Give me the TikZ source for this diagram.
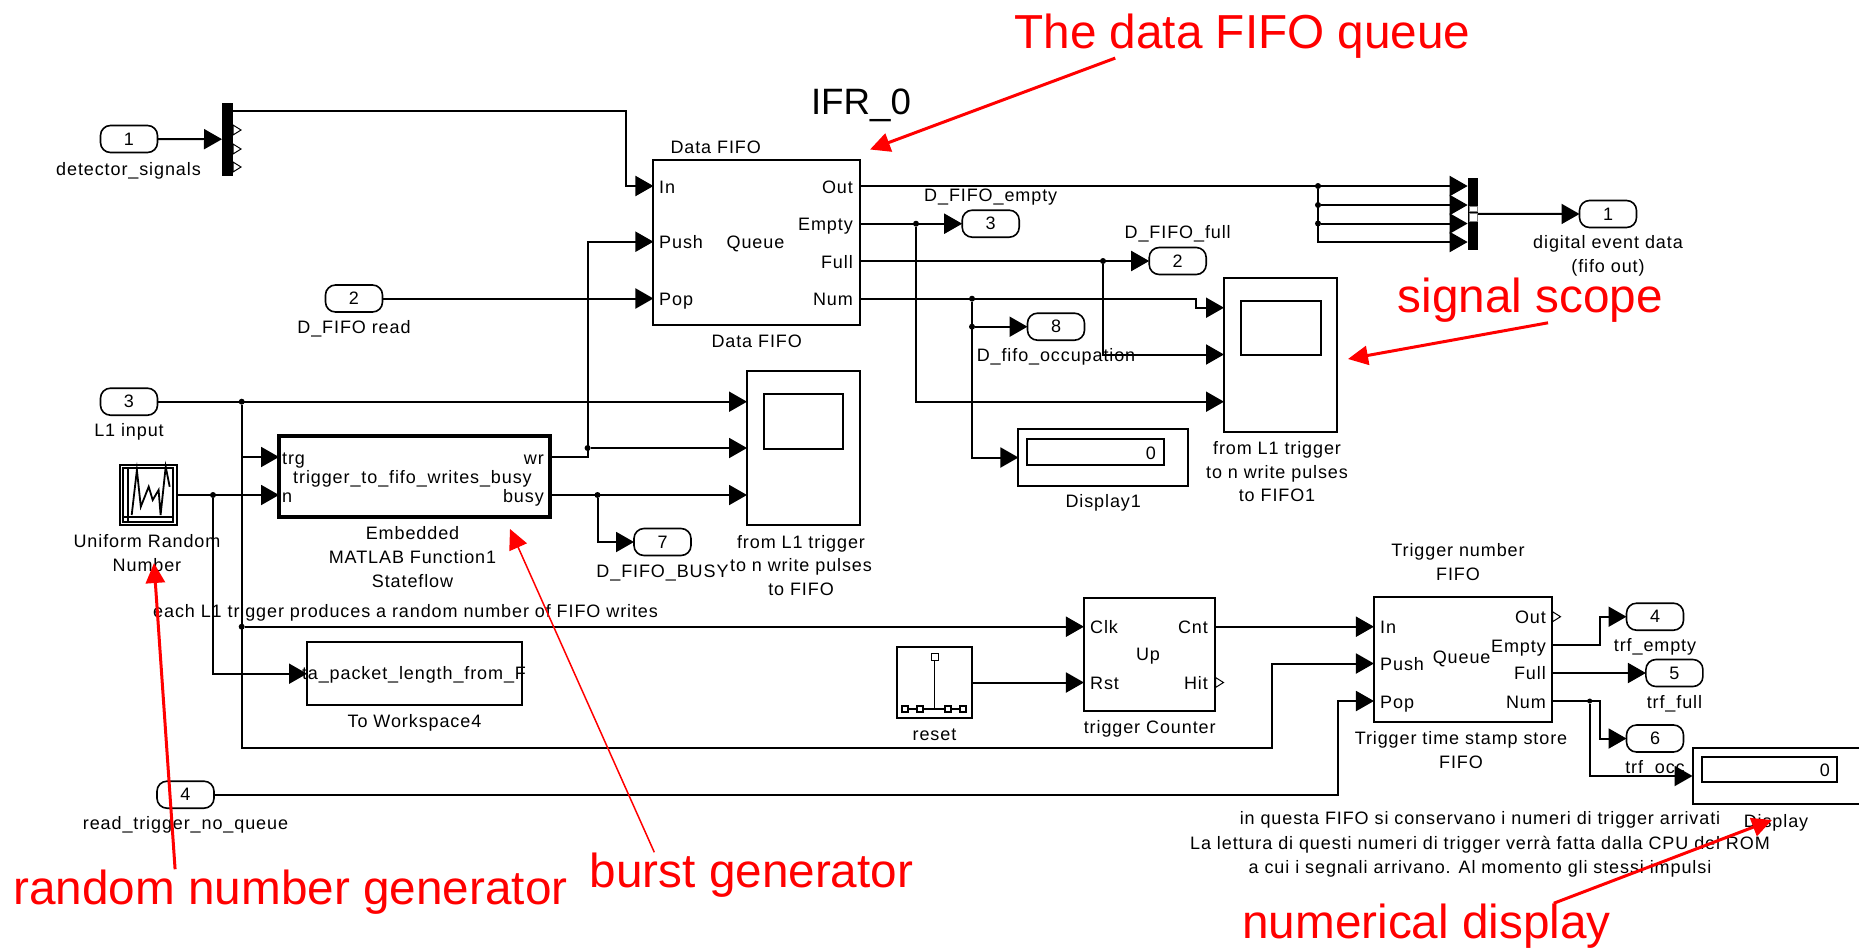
\documentclass[tikz,border=0pt]{standalone}
\usepackage{fontspec}
\setmainfont{Liberation Sans}
\newfontfamily\simfont[LetterSpace=5]{Liberation Sans}
\usetikzlibrary{arrows.meta,positioning,calc,shapes.geometric}

\begin{document}
\begin{tikzpicture}[
  x=1pt, y=-1pt,
  block/.style={draw, line width=2pt, inner sep=0pt, outer sep=0pt},
  screen/.style={draw, line width=2pt, inner sep=0pt, outer sep=0pt},
  inport/.style={draw, line width=1.6pt, rounded corners=10pt, minimum width=57pt, minimum height=27pt, inner sep=0pt, outer sep=0pt, font=\simfont\fontsize{18}{22}\selectfont},
  muxbar/.style={fill=black, inner sep=0pt, outer sep=0pt},
  lbl/.style={inner sep=0pt, text height=15.5pt, text depth=1.5pt, font=\simfont\fontsize{18}{22}\selectfont},
  lbls/.style={inner sep=0pt, align=center, font=\simfont\fontsize{18}{23.7}\selectfont},
  outlet/.style={draw, isosceles triangle, isosceles triangle stretches, minimum width=10pt, minimum height=8pt, inner sep=0pt, outer sep=0pt, line width=1pt, anchor=west},
  tiny/.style={draw, line width=1.4pt, fill=white, inner sep=0pt, minimum size=7pt},
  dot/.style={circle, fill=black, inner sep=0pt, minimum size=6pt},
  sig/.style={-{Triangle[length=18pt,width=20pt]}, line width=2pt},
  note/.style={inner sep=0pt, red, anchor=base, font=\fontsize{47.7}{54}\selectfont},
  pointer/.style={-{Triangle[length=20pt,width=19pt]}, red, line width=3pt}
]
\useasboundingbox (0,0) rectangle (1859,948);

% Blocks
\node[block, minimum width=206.5pt, minimum height=164.7pt] (fifo) at (756.7,242.3) {};
\node[block, line width=4pt, minimum width=271pt, minimum height=80.7pt] (sf) at (414.5,476.3) {};
\node[block, minimum width=57pt, minimum height=60pt] (rng) at (148,495) {};
\node[block, line width=1.2pt, minimum width=50pt, minimum height=54pt] (rngin) at (148,495) {};
\node[block, minimum width=215pt, minimum height=63.5pt] (wsbox) at (414.5,673.7) {};
\node[block, minimum width=113pt, minimum height=154pt] (scopeA) at (803.5,448) {};
\node[screen, minimum width=79pt, minimum height=55pt] (screenA) at (803.5,421.5) {};
\node[block, minimum width=113pt, minimum height=154pt] (scopeB) at (1280.5,354.7) {};
\node[screen, minimum width=80pt, minimum height=54pt] (screenB) at (1281,327.7) {};
\node[block, minimum width=169.5pt, minimum height=57pt] (dispA) at (1103.2,457.5) {};
\node[screen, minimum width=137pt, minimum height=26pt] (readA) at (1095.5,452) {};
\node[block, minimum width=169.5pt, minimum height=56pt] (dispB) at (1777.3,776) {};
\node[screen, minimum width=135pt, minimum height=24.7pt] (readB) at (1769.5,769.3) {};
\node[block, minimum width=131.5pt, minimum height=113pt] (counter) at (1149.7,654.5) {};
\node[block, minimum width=178.5pt, minimum height=125pt] (tfifo) at (1463.2,659.2) {};
\node[block, minimum width=75pt, minimum height=71pt] (reset) at (934.5,682.5) {};

% Mux bars
\node[muxbar, minimum width=11pt, minimum height=73pt] (muxA) at (227.5,139.2) {};
\node[muxbar, minimum width=10.3pt, minimum height=72.3pt] (muxB) at (1472.8,213.9) {};
\node[draw=gray, fill=white, inner sep=0pt, minimum width=8pt, minimum height=5.5pt] (barA) at (1473,208.8) {};
\node[draw=gray, fill=white, inner sep=0pt, minimum width=8pt, minimum height=7.5pt] (barB) at (1473,217) {};

% Ports
\node[inport] (inA) at (129,139) {1};
\node[inport] (inB) at (354,298.5) {2};
\node[inport] (inC) at (129,401.7) {3};
\node[inport] (inD) at (185.5,794.7) {4};
\node[inport] (outA) at (1608,214) {1};
\node[inport] (outB) at (1177.7,261) {2};
\node[inport] (outC) at (990.7,223.7) {3};
\node[inport] (outD) at (1655,616.7) {4};
\node[inport] (outE) at (1674.4,673) {5};
\node[inport] (outF) at (1655,738.5) {6};
\node[inport] (outG) at (662.5,542) {7};
\node[inport] (outH) at (1056,326.7) {8};

% Open outlets
\node[outlet] (opA) at (233,130) {};
\node[outlet] (opB) at (233,149) {};
\node[outlet] (opC) at (233,167) {};
\node[outlet] (opD) at (1215.5,682.5) {};
\node[outlet] (opE) at (1552.5,616.7) {};

% Data FIFO text
\node[lbl, above=4.5pt of fifo, xshift=-41pt] (fifoTop) {Data FIFO};
\node[lbl, below=7pt of fifo] (fifoCap) {Data FIFO};
\node[lbl, anchor=west] (fIn) at (659,186) {In};
\node[lbl, anchor=west] (fPush) at (659,241.7) {Push};
\node[lbl, anchor=west] (fPop) at (659,298) {Pop};
\node[lbl] (fQueue) at (755.5,241.7) {Queue};
\node[lbl, anchor=east] (fOut) at (853,186) {Out};
\node[lbl, anchor=east] (fEmpty) at (853,223.7) {Empty};
\node[lbl, anchor=east] (fFull) at (853,261) {Full};
\node[lbl, anchor=east] (fNum) at (853,298.7) {Num};

% Stateflow text
\node[lbl, anchor=west] (sTrg) at (282,457) {trg};
\node[lbl, anchor=west] (sN) at (282,495) {n};
\node[lbl, anchor=east] (sWr) at (544,457) {wr};
\node[lbl, anchor=east] (sBusy) at (544,495) {busy};
\node[lbl] (sName) at (412.5,476) {trigger\_to\_fifo\_writes\_busy};
\node[lbls] (sCap) at (412.5,557) {Embedded\\MATLAB Function1\\Stateflow};

% Counter text
\node[lbl, anchor=west] (cClk) at (1090,626.7) {Clk};
\node[lbl, anchor=west] (cRst) at (1090,682.5) {Rst};
\node[lbl] (cUp) at (1148,653) {Up};
\node[lbl, anchor=east] (cCnt) at (1208,626.7) {Cnt};
\node[lbl, anchor=east] (cHit) at (1208,682.5) {Hit};
\node[lbl, below=7pt of counter] (cCap) {trigger Counter};

% Trigger FIFO text
\node[lbls] (tTop) at (1458,562) {Trigger number\\FIFO};
\node[lbl, anchor=west] (tIn) at (1380,626.7) {In};
\node[lbl, anchor=west] (tPush) at (1380,663.5) {Push};
\node[lbl, anchor=west] (tPop) at (1380,701) {Pop};
\node[lbl] (tQueue) at (1461.6,656.7) {Queue};
\node[lbl, anchor=east] (tOut) at (1546,616) {Out};
\node[lbl, anchor=east] (tEmpty) at (1546,645) {Empty};
\node[lbl, anchor=east] (tFull) at (1546,672) {Full};
\node[lbl, anchor=east] (tNum) at (1546,701) {Num};
\node[lbls] (tCap) at (1461,750) {Trigger time stamp store\\FIFO};

% Port and block captions
\node[lbl, anchor=east] (inAcap) at (201,168) {detector\_signals};
\node[lbl, below=6pt of inB] (inBcap) {D\_FIFO read};
\node[lbl, below=6pt of inC] (inCcap) {L1 input};
\node[lbl, below=6pt of inD] (inDcap) {read\_trigger\_no\_queue};
\node[lbls, below=8pt of outA] (outAcap) {digital event data\\(fifo out)};
\node[lbl, above=7pt of outB] (outBcap) {D\_FIFO\_full};
\node[lbl, above=7pt of outC] (outCcap) {D\_FIFO\_empty};
\node[lbl, below=6pt of outD] (outDcap) {trf\_empty};
\node[lbl, below=6pt of outE] (outEcap) {trf\_full};
\node[lbl, below=6pt of outF] (outFcap) {trf\_occ};
\node[lbl, below=6pt of outG] (outGcap) {D\_FIFO\_BUSY};
\node[lbl, below=6pt of outH] (outHcap) {D\_fifo\_occupation};
\node[lbls] (rngCap) at (147,553) {Uniform Random\\Number};
\node[lbl, below=6pt of wsbox] (wsCap) {To Workspace4};
\node[lbl] (wsName) at (414,672) {ta\_packet\_length\_from\_F};
\node[lbl, below=7pt of reset] (resetCap) {reset};
\node[lbls] (scopeAcap) at (801,565.5) {from L1 trigger\\to n write pulses\\to FIFO};
\node[lbls] (scopeBcap) at (1277,471.7) {from L1 trigger\\to n write pulses\\to FIFO1};
\node[lbl, anchor=east] (readAval) at (1156,452) {0};
\node[lbl, below=6pt of dispA] (dispAcap) {Display1};
\node[lbl, anchor=east] (readBval) at (1830,769) {0};
\node[lbl] (dispBcap) at (1776,820.7) {Display};

% Free text
\node[lbl, anchor=west] (eachText) at (153,610) {each L1 trigger produces a random number of FIFO writes};
\node[lbls, font=\simfont\fontsize{18}{24.5}\selectfont] (fifoText) at (1480,844.5) {in questa FIFO si conservano i numeri di trigger arrivati\\La lettura di questi numeri di trigger verrà fatta dalla CPU del ROM\\a cui i segnali arrivano. Al momento gli stessi impulsi};
\node[inner sep=0pt, font=\fontsize{36.7}{40}\selectfont] (title) at (861,105.5) {IFR\_0};

% Inside the random number block
\draw[line width=1.4pt] (128,468) -- (128,522);
\draw[line width=1.4pt] (124,517) -- (173,517);
\draw[line width=1.8pt] (131.7,515) -- (136.9,470) -- (140.8,506.7) -- (148.7,486.7) -- (152.7,500) -- (158.6,490) -- (160.6,515) -- (165.7,466.7) -- (169.7,486.7);

% Inside the reset block
\node[tiny] (knob) at (934.7,656.7) {};
\node[tiny, minimum size=6pt] (stopA) at (905,709) {};
\node[tiny, minimum size=6pt] (stopB) at (920,709) {};
\node[tiny, minimum size=6pt] (stopC) at (948,709) {};
\node[tiny, minimum size=6pt] (stopD) at (963,709) {};
\draw[line width=1.5pt] (knob) -- (knob |- stopA);
\draw[line width=1.5pt] (stopA) -- (stopB);
\draw[line width=1.5pt] (stopB) -- (stopC);
\draw[line width=1.5pt] (stopC) -- (stopD);

% Junctions and bends
\node[dot] (jWr) at (587.6,448) {};
\node[dot] (jBusy) at (597.5,495) {};
\node[dot] (jL) at (241.7,401.7) {};
\node[dot] (jClk) at (241.7,626.7) {};
\node[dot] (jR) at (213,495) {};
\node[dot] (jE) at (916,223.7) {};
\node[dot] (jF) at (1103,261) {};
\node[dot] (jN) at (972,298.7) {};
\node[dot] (jO) at (972,326.7) {};
\node[dot] (jA) at (1318,186) {};
\node[dot] (jB) at (1318,205) {};
\node[dot] (jC) at (1318,223.5) {};
\node[dot, minimum size=5pt] (jNum) at (1589.7,701) {};
\coordinate (muxOut) at (233,111);
\coordinate (bendIn) at (626,111);
\coordinate (bendPush) at (1271.5,747.7);
\coordinate (bendPop) at (1337.6,701);
\coordinate (bendNum) at (1196,298.7);
\coordinate (bendM) at (1318,242);
\coordinate (bendO) at (1599.5,701);
\coordinate (sbA) at (1224,307.7);
\coordinate (sbB) at (1224,354.5);
\coordinate (sbC) at (1224,401.7);

% Data path
\draw[sig] (inA) -- (muxA);
\draw[sig] (muxOut) -- (bendIn) |- (fIn -| fifo.west);
\draw[sig] (inB) -- (inB -| fifo.west);
\draw[sig] (sTrg -| sf.east) -| (jWr |- fPush) -- (fPush -| fifo.west);
\draw[sig] (jWr) -- (jWr -| scopeA.west);
\draw[sig] (sBusy -| sf.east) -- (sBusy -| scopeA.west);
\draw[sig] (jBusy) |- (outG.west);
\draw[sig] (inC) -- (inC -| scopeA.west);
\draw[sig] (jL |- sTrg) -- (sTrg -| sf.west);
\draw[sig] (rng) -- (rng -| sf.west);
\draw[sig] (jR) |- (wsbox.west);
\draw[sig] (jL) |- (bendPush) |- (tPush -| tfifo.west);
\draw[sig] (jClk) -- (jClk -| counter.west);
\draw[sig] (reset) -- (reset -| counter.west);
\draw[sig] (cCnt -| counter.east) -- (cCnt -| tfifo.west);
\draw[sig] (inD) -| (bendPop) -- (tPop -| tfifo.west);

% Trigger FIFO outputs
\draw[sig] (tEmpty -| tfifo.east) -| (bendO |- outD) -- (outD.west);
\draw[sig] (outE -| tfifo.east) -- (outE.west);
\draw[sig] (tNum -| tfifo.east) -- (bendO) |- (outF.west);
\draw[sig] (jNum) |- (dispB.west);

% Data FIFO outputs
\draw[sig] (fOut -| fifo.east) -- (fOut -| muxB.west);
\draw[sig] (jB) -- (jB -| muxB.west);
\draw[sig] (jC) -- (jC -| muxB.west);
\draw[sig] (jA) |- (bendM -| muxB.west);
\draw[sig] (muxB) -- (outA);
\draw[sig] (outC -| fifo.east) -- (outC.west);
\draw[sig] (jE) |- (sbC);
\draw[sig] (outB -| fifo.east) -- (outB.west);
\draw[sig] (jF) |- (sbB);
\draw[sig] (fNum -| fifo.east) -- (bendNum) |- (sbA);
\draw[sig] (jO) -- (outH.west);
\draw[sig] (jN) |- (dispA.west);

% Red notes
\node[note] (queueNote) at (1242.5,48) {The data FIFO queue};
\node[note] (signalNote) at (1530.5,312.7) {signal scope};
\node[note] (burstNote) at (751.5,887) {burst generator};
\node[note] (randNote) at (290.5,904) {random number generator};
\node[note] (numNote) at (1426.5,938) {numerical display};
\coordinate (queueTip) at (870,149.5);
\coordinate (signalTip) at (1348,359);
\coordinate (burstTip) at (510,529);
\coordinate (randTip) at (154,563);
\coordinate (numTip) at (1772,820);
\draw[pointer] (queueNote.190) -- (queueTip);
\draw[pointer] (signalNote.308) -- (signalTip);
\draw[pointer, line width=1.5pt] (burstNote.167) -- (burstTip);
\draw[pointer] (randNote.169) -- (randTip);
\draw[pointer] (numNote.10) -- (numTip);

\end{tikzpicture}
\end{document}
